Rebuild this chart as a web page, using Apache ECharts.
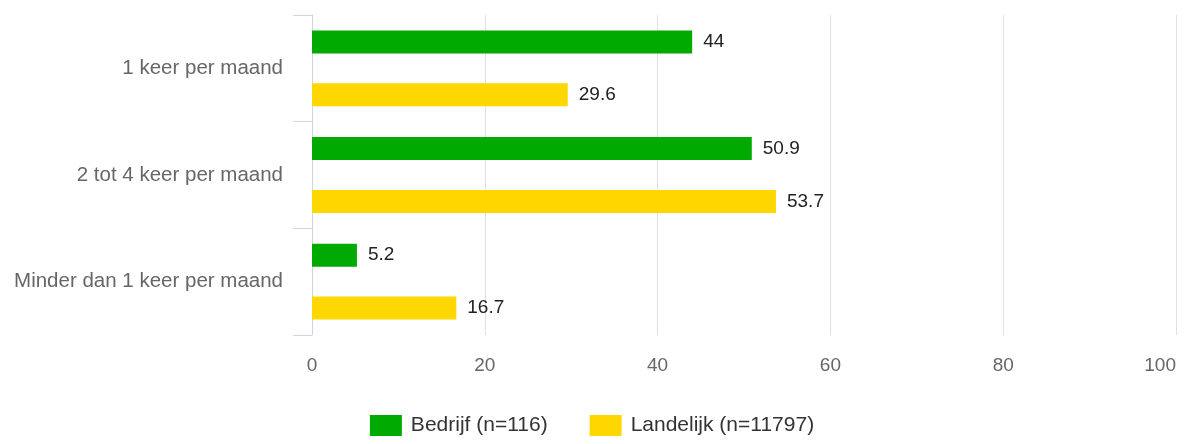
<!DOCTYPE html>
<html>
<head>
<meta charset="utf-8">
<script src="https://cdn.jsdelivr.net/npm/echarts@6/dist/echarts.min.js"></script>
<style>
html,body{margin:0;padding:0;background:#fff;}
#chart{width:1184px;height:444px;}
</style>
</head>
<body>
<div id="chart"></div>
<script>
const categories = ['1 keer per maand', '2 tot 4 keer per maand', 'Minder dan 1 keer per maand'];
const seriesNames = ['Bedrijf (n=116)', 'Landelijk (n=11797)'];
const bedrijf = [44, 50.9, 5.2];
const landelijk = [29.6, 53.7, 16.7];
const xTicks = [0, 20, 40, 60, 80, 100];

const font = '"Liberation Sans", Arial, sans-serif';
const chart = echarts.init(document.getElementById('chart'));
const labelOpt = {
  show: true, position: 'right', distance: 11,
  color: '#222', fontSize: 19, fontFamily: font
};
chart.setOption({
  animation: false,
  textStyle: { fontFamily: font },
  grid: { left: 312, right: 8, top: 15, bottom: 109, outerBoundsMode: 'none', containLabel: false },
  legend: {
    bottom: 3, left: 'center', icon: 'rect',
    itemWidth: 32, itemHeight: 21, itemGap: 42,
    textStyle: { color: '#333', fontSize: 21, fontFamily: font, padding: [0, 0, 0, 4] },
    data: seriesNames
  },
  xAxis: {
    type: 'value', min: xTicks[0], max: xTicks[xTicks.length - 1], interval: 20,
    axisLine: { show: false }, axisTick: { show: false },
    splitLine: { lineStyle: { color: '#e0e0e0' } },
    axisLabel: { color: '#666', fontSize: 19, margin: 21, fontFamily: font, alignMaxLabel: 'right' }
  },
  yAxis: {
    type: 'category', data: categories, inverse: true,
    axisLine: { lineStyle: { color: '#ccd6eb', width: 1 } },
    axisTick: { show: true, length: 19, lineStyle: { color: '#ccd6eb' } },
    axisLabel: { color: '#666', fontSize: 20.5, margin: 29, fontFamily: font }
  },
  series: [
    { name: seriesNames[0], type: 'bar', data: bedrijf, barWidth: 23, barGap: '130%',
      itemStyle: { color: '#00aa00' }, label: labelOpt },
    { name: seriesNames[1], type: 'bar', data: landelijk, barWidth: 23, barGap: '130%',
      itemStyle: { color: '#ffd700' }, label: labelOpt }
  ]
});
</script>
</body>
</html>
